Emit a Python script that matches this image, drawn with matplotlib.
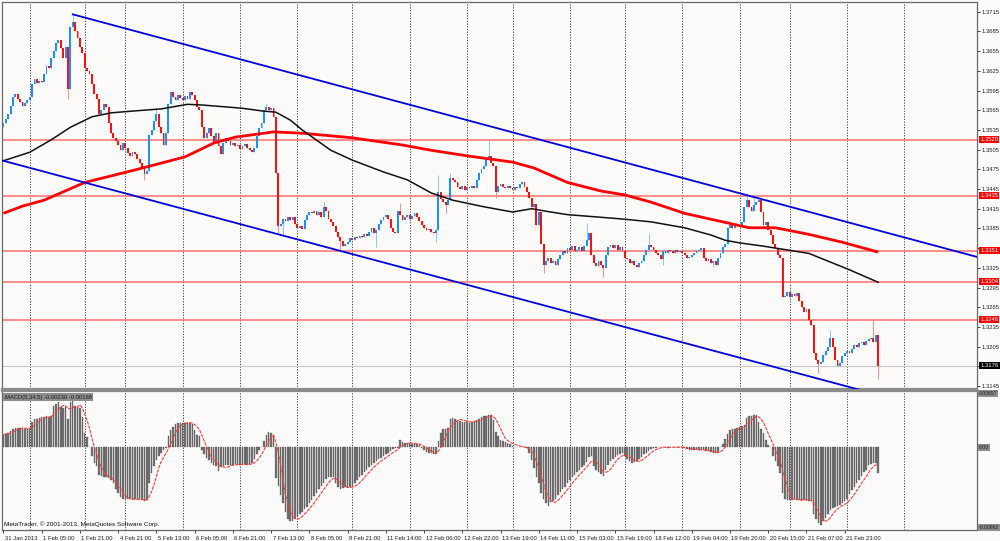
import numpy as np
import pandas as pd
import matplotlib
matplotlib.use("Agg")
import matplotlib.pyplot as plt
import matplotlib.transforms as mtrans

# ---------------- data (H1 EURUSD-like chart) ----------------
closes = [
    1.3545, 1.3552, 1.3560, 1.3572, 1.3585, 1.3590, 1.3582, 1.3578, 1.3572, 1.3576, 1.3580, 1.3585, 1.3605, 1.3612, 1.3606, 1.3610,
    1.3608, 1.3620, 1.3632, 1.3630, 1.3645, 1.3655, 1.3668, 1.3672, 1.3660, 1.3645, 1.3662, 1.3598, 1.3692, 1.3700, 1.3685, 1.3675,
    1.3662, 1.3652, 1.3630, 1.3625, 1.3620, 1.3605, 1.3590, 1.3582, 1.3560, 1.3565, 1.3575, 1.3570, 1.3545, 1.3530, 1.3522, 1.3518,
    1.3512, 1.3505, 1.3515, 1.3508, 1.3500, 1.3495, 1.3502, 1.3498, 1.3490, 1.3485, 1.3478, 1.3468, 1.3472, 1.3528, 1.3535, 1.3548,
    1.3560, 1.3540, 1.3530, 1.3512, 1.3530, 1.3575, 1.3592, 1.3585, 1.3580, 1.3588, 1.3583, 1.3580, 1.3586, 1.3582, 1.3592, 1.3588,
    1.3580, 1.3570, 1.3565, 1.3540, 1.3522, 1.3530, 1.3538, 1.3525, 1.3515, 1.3530, 1.3510, 1.3498, 1.3515, 1.3522, 1.3518, 1.3512,
    1.3515, 1.3510, 1.3512, 1.3506, 1.3510, 1.3514, 1.3508, 1.3505, 1.3502, 1.3508, 1.3525, 1.3538, 1.3545, 1.3565, 1.3570, 1.3565,
    1.3568, 1.3555, 1.3470, 1.3388, 1.3392, 1.3400, 1.3396, 1.3402, 1.3398, 1.3403, 1.3392, 1.3385, 1.3388, 1.3384, 1.3398, 1.3405,
    1.3410, 1.3408, 1.3412, 1.3405, 1.3410, 1.3403, 1.3418, 1.3412, 1.3400, 1.3395, 1.3388, 1.3380, 1.3372, 1.3366, 1.3358, 1.3362,
    1.3365, 1.3370, 1.3368, 1.3372, 1.3370, 1.3374, 1.3372, 1.3376, 1.3374, 1.3380, 1.3385, 1.3378, 1.3382, 1.3392, 1.3398, 1.3402,
    1.3405, 1.3400, 1.3385, 1.3380, 1.3378, 1.3412, 1.3405, 1.3398, 1.3402, 1.3405, 1.3400, 1.3404, 1.3408, 1.3402, 1.3396, 1.3390,
    1.3385, 1.3382, 1.3384, 1.3380, 1.3378, 1.3382, 1.3440, 1.3430, 1.3425, 1.3420, 1.3428, 1.3462, 1.3458, 1.3455, 1.3448, 1.3445,
    1.3450, 1.3444, 1.3448, 1.3446, 1.3450, 1.3447, 1.3458, 1.3470, 1.3475, 1.3480, 1.3490, 1.3495, 1.3485, 1.3480, 1.3440, 1.3450,
    1.3452, 1.3448, 1.3446, 1.3450, 1.3446, 1.3444, 1.3448, 1.3446, 1.3452, 1.3455, 1.3448, 1.3440, 1.3432, 1.3418, 1.3422, 1.3390,
    1.3410, 1.3362, 1.3330, 1.3335, 1.3340, 1.3332, 1.3336, 1.3330, 1.3338, 1.3345, 1.3350, 1.3348, 1.3355, 1.3352, 1.3358, 1.3350,
    1.3352, 1.3356, 1.3350, 1.3358, 1.3368, 1.3378, 1.3345, 1.3332, 1.3328, 1.3335, 1.3330, 1.3325, 1.3345, 1.3356, 1.3360, 1.3355,
    1.3360, 1.3352, 1.3356, 1.3350, 1.3340, 1.3338, 1.3332, 1.3335, 1.3330, 1.3326, 1.3332, 1.3336, 1.3345, 1.3352, 1.3360, 1.3356,
    1.3352, 1.3348, 1.3345, 1.3338, 1.3350, 1.3348, 1.3352, 1.3350, 1.3348, 1.3352, 1.3349, 1.3350, 1.3347, 1.3344, 1.3340, 1.3342,
    1.3345, 1.3348, 1.3350, 1.3352, 1.3355, 1.3340, 1.3335, 1.3338, 1.3332, 1.3336, 1.3330, 1.3340, 1.3348, 1.3356, 1.3362, 1.3385,
    1.3390, 1.3385, 1.3392, 1.3388, 1.3390, 1.3395, 1.3418, 1.3428, 1.3418, 1.3412, 1.3420, 1.3425, 1.3428, 1.3410, 1.3390, 1.3395,
    1.3382, 1.3375, 1.3362, 1.3355, 1.3345, 1.3340, 1.3280, 1.3282, 1.3288, 1.3280, 1.3285, 1.3282, 1.3286, 1.3275, 1.3265, 1.3258,
    1.3262, 1.3245, 1.3238, 1.3195, 1.3185, 1.3178, 1.3182, 1.3192, 1.3198, 1.3205, 1.3218, 1.3205, 1.3185, 1.3175, 1.3180, 1.3190,
    1.3195, 1.3198, 1.3196, 1.3202, 1.3208, 1.3205, 1.3210, 1.3212, 1.3208, 1.3214, 1.3216, 1.3218, 1.3212, 1.3222, 1.3176,
]
first_open = 1.3540
wick_highs = {29: 1.3711, 64: 1.3568, 110: 1.3576, 134: 1.3426, 166: 1.3424, 182: 1.3466,
              187: 1.3470, 203: 1.3519, 244: 1.3393, 270: 1.3378, 311: 1.3439, 314: 1.3437,
              346: 1.3230, 364: 1.3245}
wick_lows = {27: 1.3582, 59: 1.3459, 115: 1.3378, 117: 1.3375, 141: 1.3352, 156: 1.3357,
             181: 1.3365, 185: 1.3408, 206: 1.3432, 226: 1.3317, 251: 1.3311, 276: 1.3330,
             297: 1.3326, 341: 1.3165, 366: 1.3155}

# MACD(5,34,5) histogram in units of 1e-5
macd_hist_e5 = [
    150, 160, 170, 190, 220, 230, 230, 225, 220, 215, 220, 225, 300, 330, 335, 340,
    350, 355, 360, 355, 365, 480, 500, 530, 470, 460, 470, 330, 530, 540, 480, 470,
    460, 350, 170, 120, 10, -100, -180, -220, -320, -330, -340, -350, -360, -380, -420, -480,
    -530, -580, -600, -600, -605, -600, -610, -600, -610, -605, -615, -620, -610, -420, -300, -220,
    -150, -100, -60, -30, -10, 130, 200, 240, 270, 280, 285, 290, 290, 285, 280, 275,
    200, 150, 130, -30, -80, -120, -150, -180, -200, -220, -280, -230, -220, -210, -205, -200,
    -200, -195, -200, -205, -195, -190, -200, -195, -180, -140, -80, -30, 10, 80, 150, 180,
    170, 140, -360, -450, -550, -650, -750, -830, -860, -860, -830, -800, -780, -750, -720, -690,
    -650, -610, -570, -530, -490, -450, -410, -370, -340, -340, -350, -420, -460, -480, -470, -460,
    -465, -460, -455, -420, -380, -350, -320, -290, -260, -230, -200, -180, -160, -140, -120, -100,
    -80, -60, -40, -20, -10, -5, 90, 60, 50, 40, 50, 45, 40, 35, 30, -10,
    -30, -50, -60, -70, -80, -80, 80, 170, 210, 220, 230, 330, 340, 330, 320, 310,
    300, 300, 295, 290, 300, 310, 320, 330, 350, 360, 370, 380, 380, 320, 180, 130,
    90, 70, 60, 50, 40, 20, 10, 5, 0, 5, 0, -10, -70, -150, -240, -340,
    -420, -530, -600, -650, -680, -640, -620, -600, -560, -520, -490, -460, -420, -380, -350, -320,
    -290, -260, -230, -200, -170, -110, -100, -220, -260, -290, -310, -330, -260, -210, -160, -130,
    -110, -90, -80, -70, -100, -130, -160, -180, -170, -160, -140, -110, -80, -60, -40, -20,
    -10, -5, 0, 10, 5, 0, -5, 5, 10, 0, -5, 0, 5, -10, -20, -30,
    -30, -25, -20, -30, -30, -35, -40, -45, -55, -65, -70, -60, 0, 40, 100, 160,
    200, 210, 215, 230, 240, 245, 260, 340, 360, 370, 380, 375, 300, 220, 170, 90,
    30, 10, -100, -160, -220, -300, -530, -600, -610, -615, -610, -605, -600, -610, -620, -615,
    -610, -620, -630, -770, -830, -880, -900, -860, -820, -780, -730, -700, -690, -680, -670, -650,
    -630, -600, -540, -500, -460, -420, -380, -330, -290, -260, -200, -190, -180, -185, -300,
]
signal_period = 5

# moving averages (bar index, price)
ma_black_bars = [0, 11, 20, 28, 37, 45, 55, 66, 77, 83, 100, 108, 114, 120, 125, 137, 146, 159,
                 169, 179, 188, 201, 213, 221, 229, 236, 250, 260, 271, 285, 296, 302, 308, 318,
                 337, 354, 366]
ma_black_vals = [1.3488, 1.3501, 1.3520, 1.3539, 1.3555, 1.3561, 1.3564, 1.3567, 1.3574, 1.3573,
                 1.3568, 1.3564, 1.3562, 1.3550, 1.3535, 1.3504, 1.3489, 1.3471, 1.3459, 1.3439,
                 1.3428, 1.3418, 1.3410, 1.3415, 1.3410, 1.3406, 1.3402, 1.3399, 1.3395, 1.3386,
                 1.3375, 1.3367, 1.3363, 1.3358, 1.3347, 1.3322, 1.3303]
ma_red_bars = [0, 8, 17, 34, 55, 76, 88, 97, 113, 125, 146, 167, 179, 195, 213, 222, 236, 250,
               260, 271, 285, 296, 301, 312, 323, 337, 351, 366]
ma_red_vals = [1.3408, 1.3419, 1.3428, 1.3455, 1.3474, 1.3494, 1.3515, 1.3524, 1.3532, 1.3530,
               1.3523, 1.3512, 1.3504, 1.3495, 1.3486, 1.3477, 1.3455, 1.3442, 1.3436, 1.3425,
               1.3408, 1.3399, 1.3395, 1.3386, 1.3386, 1.3376, 1.3364, 1.3349]

level_prices = [1.3520, 1.3435, 1.3351, 1.3304, 1.3246]
bid_price = 1.3176
upper_channel = [(29, 1.3711), (366, 1.3382)]
lower_channel = [(0, 1.3488), (300, 1.3196)]

grid_bars = [11, 34, 51, 75, 99, 123, 146, 170, 194, 213, 237, 260, 284, 308, 329, 353, 377]
time_labels = ["31 Jan 2013", "1 Feb 05:00", "1 Feb 21:00", "4 Feb 21:00", "5 Feb 13:00",
               "6 Feb 05:00", "6 Feb 21:00", "7 Feb 13:00", "8 Feb 05:00", "8 Feb 21:00",
               "11 Feb 14:00", "12 Feb 06:00", "12 Feb 22:00", "13 Feb 19:00", "14 Feb 11:00",
               "15 Feb 03:00", "15 Feb 19:00", "18 Feb 12:00", "19 Feb 04:00", "19 Feb 20:00",
               "20 Feb 15:00", "21 Feb 07:00", "21 Feb 23:00"]
bars_per_label = 16
price_tick_top, price_tick_step, price_tick_count = 1.3715, 0.0030, 20
macd_label = "MACD(5,34,5) -0.00230 -0.00168"
macd_max, macd_min = 0.00657, -0.00962
copyright_text = "MetaTrader, \u00a9 2001-2013, MetaQuotes Software Corp."

# ---------------- styling ----------------
BG = "#fdfafa"
plt.rcParams["font.family"] = ["Liberation Sans", "DejaVu Sans"]
W, H = 1000, 541
fig = plt.figure(figsize=(W / 100, H / 100), dpi=100, facecolor=BG)

def fx(px):
    return px / W

def fy(py):
    return 1 - py / H

ax = fig.add_axes([fx(2), fy(389), fx(977) - fx(2), fy(2) - fy(389)], facecolor=BG)
ax2 = fig.add_axes([fx(2), fy(530), fx(977) - fx(2), fy(391) - fy(530)], facecolor=BG, sharex=ax)

px_per_bar = 2.39
x_left = -0.6
x_right = x_left + 975 / px_per_bar
ax.set_xlim(x_left, x_right)
ax.set_ylim(1.31405, 1.37298)
ax2.set_ylim(macd_min, macd_max)

for a in (ax, ax2):
    for s in a.spines.values():
        s.set_color("#6a6a6a")
        s.set_linewidth(0.9)
ax.spines["bottom"].set_linewidth(1.6)
ax.spines["bottom"].set_color("#8a8a8a")
ax2.spines["top"].set_linewidth(1.6)
ax2.spines["top"].set_color("#8a8a8a")

# vertical dotted grid (both panels)
for a in (ax, ax2):
    for g in grid_bars:
        a.axvline(g, color="#3c3c3c", lw=0.7, ls=(0, (1.2, 1.6)), zorder=0.5)

# ---------------- candles ----------------
c = np.array(closes)
o = np.concatenate([[first_open], c[:-1]])
hi = np.maximum(o, c)
lo = np.minimum(o, c)
for k, v in wick_highs.items():
    hi[k] = max(hi[k], v)
for k, v in wick_lows.items():
    lo[k] = min(lo[k], v)
x = np.arange(len(c))
up = c >= o
body_lo = np.minimum(o, c)
body_h = np.maximum(np.abs(c - o), 0.00008)

ax.vlines(x[up], lo[up], hi[up], color="#8cc4ff", lw=0.7, zorder=2)
ax.vlines(x[~up], lo[~up], hi[~up], color="#ff8c8c", lw=0.7, zorder=2)
ax.bar(x[up], body_h[up], bottom=body_lo[up], width=0.78, color="#1e8fff", lw=0, zorder=2.2)
ax.bar(x[~up], body_h[~up], bottom=body_lo[~up], width=0.78, color="#ff1010", lw=0, zorder=2.2)

# horizontal levels
for p in level_prices:
    ax.axhline(p, color="#ff7a7a", lw=1.2, zorder=1)
ax.axhline(bid_price, color="#c8c8c8", lw=0.8, zorder=1)

# moving averages
ax.plot(ma_red_bars, ma_red_vals, color="#ff0000", lw=2.0, zorder=3, solid_capstyle="butt")
ax.plot(ma_black_bars, ma_black_vals, color="#111111", lw=1.1, zorder=3.1)

# channel lines
(ux0, uy0), (ux1, uy1) = upper_channel
us = (uy1 - uy0) / (ux1 - ux0)
ax.plot([ux0, x_right], [uy0, uy0 + us * (x_right - ux0)], color="#0000dd", lw=1.3, zorder=4)
(lx0, ly0), (lx1, ly1) = lower_channel
ls_ = (ly1 - ly0) / (lx1 - lx0)
ax.plot([x_left, x_right], [ly0 + ls_ * (x_left - lx0), ly0 + ls_ * (x_right - lx0)],
        color="#0000dd", lw=1.3, zorder=4)

# price axis on the right
price_ticks = [round(price_tick_top - i * price_tick_step, 4) for i in range(price_tick_count)]
ax.yaxis.tick_right()
ax.set_yticks(price_ticks)
# a tick label that sits under a level box is hidden by that box in the original
ax.set_yticklabels(["" if min(abs(p - lv) for lv in level_prices) < 0.0006 else f"{p:.4f}"
                    for p in price_ticks])
ax.tick_params(axis="y", labelsize=4.2, length=2, width=0.6, pad=1.5, colors="#222222")
ax.tick_params(axis="x", bottom=False, labelbottom=False)

btrans = mtrans.blended_transform_factory(ax.transAxes, ax.transData)
for p in level_prices:
    ax.text(1.0035, p, f"{p:.4f}", transform=btrans, fontsize=4.2, color="white", va="center",
            ha="left", zorder=10, clip_on=False,
            bbox=dict(boxstyle="square,pad=0.18", fc="#ff0000", ec="none"))
ax.text(1.0035, bid_price, f"{bid_price:.4f}", transform=btrans, fontsize=4.2, color="white",
        va="center", ha="left", zorder=10, clip_on=False,
        bbox=dict(boxstyle="square,pad=0.18", fc="#000000", ec="none"))

# ---------------- MACD ----------------
hist = np.array(macd_hist_e5) * 1e-5
signal = pd.Series(hist).rolling(signal_period, min_periods=1).mean().values
ax2.bar(x, hist, width=0.62, color="#747474", edgecolor="#444444", lw=0.2, zorder=2)
ax2.plot(x, signal, color="#ff3a3a", lw=0.8, ls=(0, (3, 1)), zorder=3)

ax2.set_yticks([])
ax2.text(0.003, 0.955, macd_label, transform=ax2.transAxes, fontsize=4.2, color="#1a1a1a",
         va="center", ha="left", zorder=10,
         bbox=dict(boxstyle="square,pad=0.25", fc="#8e8e8e", ec="none"))
ax2.text(0.002, 0.025, copyright_text, transform=ax2.transAxes, fontsize=4.6, color="#111111",
         va="bottom", ha="left", zorder=10)

btrans2 = mtrans.blended_transform_factory(ax2.transAxes, ax2.transData)
for val, txt, va in [(macd_max, f"{macd_max:.5f}", "top"), (0.0, "0.00", "center"),
                     (macd_min, f"{macd_min:.5f}", "bottom")]:
    ax2.text(1.002, val, txt, transform=btrans2, fontsize=3.7, color="#1a1a1a", va=va,
             ha="left", zorder=10, clip_on=False,
             bbox=dict(boxstyle="square,pad=0.12", fc="#8e8e8e", ec="none"))

tick_pos = [i * bars_per_label for i in range(len(time_labels))]
ax2.set_xticks(tick_pos)
ax2.set_xticklabels(time_labels)
ax2.tick_params(axis="x", labelsize=4.2, length=2.5, width=0.6, pad=1.5, colors="#222222")
for lab in ax2.get_xticklabels():
    lab.set_horizontalalignment("left")
offset = mtrans.ScaledTranslation(1.5 / 100, 0, fig.dpi_scale_trans)
for lab in ax2.get_xticklabels():
    lab.set_transform(lab.get_transform() + offset)

fig.savefig("out.png", dpi=100, facecolor=BG)
